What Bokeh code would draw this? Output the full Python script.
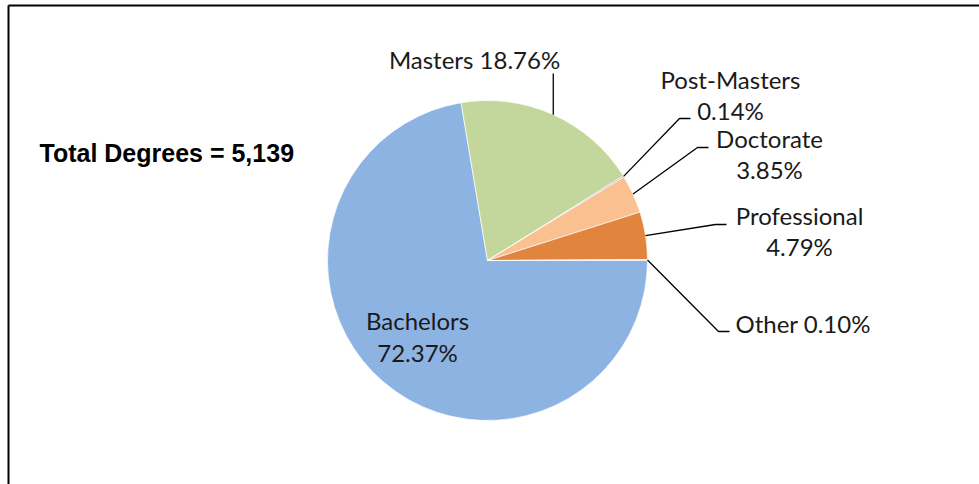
import math
from bokeh.plotting import figure
from bokeh.models import Range1d, ColumnDataSource
from bokeh.core.properties import value
from bokeh.embed import file_html
from bokeh.resources import INLINE

# ---- data ----
categories = ["Bachelors", "Masters", "Post-Masters", "Doctorate", "Professional", "Other"]
percents = [72.37, 18.76, 0.14, 3.85, 4.79, 0.10]
colors = ["#8DB3E2", "#C3D69B", "#B3A2C7", "#FAC090", "#E0843E", "#93CDDD"]
total_label = "Total Degrees = 5,139"

W, H = 979, 484
def Y(py):
    return H - py

CX, CY, R = 487, 260, 160

p = figure(width=W, height=H, x_range=Range1d(0, W), y_range=Range1d(0, H),
           output_backend="svg", toolbar_location=None,
           x_axis_type=None, y_axis_type=None, min_border=0)
p.grid.visible = False
p.outline_line_color = None
p.background_fill_color = "white"
p.border_fill_color = "white"

# frame (top and left edges visible)
p.multi_line(xs=[[8, W], [8, 8]], ys=[[Y(5), Y(5)], [Y(5), Y(H)]],
             line_color="black", line_width=2)

# wedges, clockwise from 3 o'clock
tot = sum(percents)
starts, ends, mids = [], [], []
cum = 0.0
for v in percents:
    s = -cum / tot * 2 * math.pi
    e = -(cum + v) / tot * 2 * math.pi
    starts.append(s)
    ends.append(e)
    mids.append((s + e) / 2)
    cum += v

src = ColumnDataSource(dict(cat=categories, pct=percents, color=colors,
                            start=starts, end=ends))
p.wedge(x=CX, y=Y(CY), radius=R, start_angle="start", end_angle="end",
        direction="clock", fill_color="color", line_color="white",
        line_width=0.7, source=src)

def edge(i):
    a = mids[i]
    return CX + R * math.cos(a), CY - R * math.sin(a)

# leader lines (pixel-space layout for elbows)
elbows = {
    1: [(553, 73)],
    2: [(679, 118), (690, 118)],
    3: [(697, 147), (708, 147)],
    4: [(715, 224), (726, 224)],
    5: [(718, 331), (729, 331)],
}
lx, ly = [], []
for i, pts in elbows.items():
    ex, ey = edge(i)
    if i == 1:
        xs = [ex, ex]
        ys = [ey, pts[0][1]]
    else:
        xs = [ex] + [q[0] for q in pts]
        ys = [ey] + [q[1] for q in pts]
    lx.append(xs)
    ly.append([Y(v) for v in ys])
p.multi_line(xs=lx, ys=ly, line_color="black", line_width=1.3)

def fmt(v):
    return f"{v:.2f}%"

# label layout: (text, x, y_pixel, align)
labels = [
    (f"{categories[1]} {fmt(percents[1])}", 474, 59, "center"),
    (categories[2], 730, 79, "center"),
    (fmt(percents[2]), 730, 110, "center"),
    (categories[3], 769, 138, "center"),
    (fmt(percents[3]), 769, 169, "center"),
    (categories[4], 799, 215, "center"),
    (fmt(percents[4]), 799, 246, "center"),
    (f"{categories[5]} {fmt(percents[5])}", 735, 323, "left"),
    (categories[0], 417, 320, "center"),
    (fmt(percents[0]), 417, 352, "center"),
]
for t, x, y, al in labels:
    p.text(x=[x], y=[Y(y)], text=[t], text_align=al, text_baseline="middle",
           text_font=value("Lato"), text_font_size="24px", text_color="#1a1a1a")

p.text(x=[39], y=[Y(152)], text=[total_label], text_align="left",
       text_baseline="middle", text_font=value("Liberation Sans"),
       text_font_size="25px", text_font_style="bold", text_color="black")

open("out.html", "w").write(file_html(p, INLINE))
